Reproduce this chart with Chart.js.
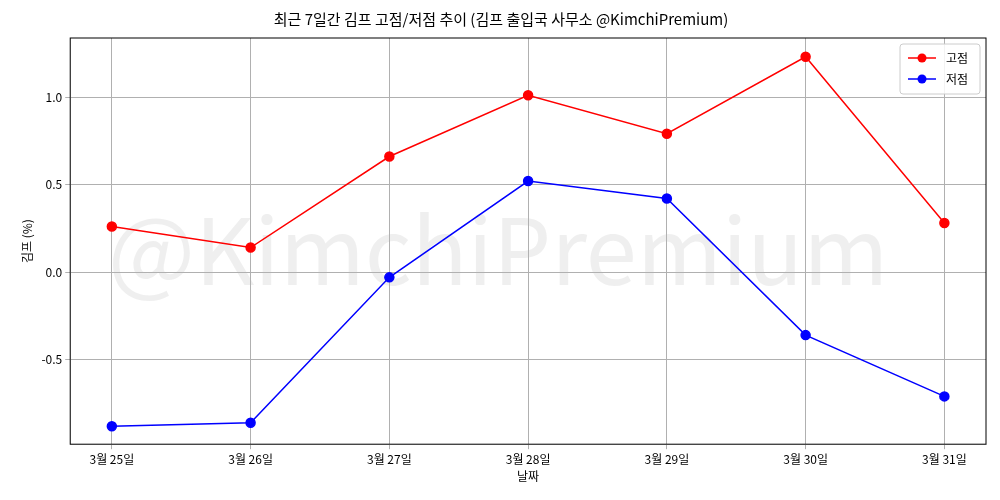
<!DOCTYPE html>
<html>
<head>
<meta charset="utf-8">
<script src="https://cdn.jsdelivr.net/npm/chart.js@4"></script>
<style>
  body { margin: 0; background: #fff; }
  #wrap { width: 1000px; height: 500px; }
</style>
</head>
<body>
<div id="wrap"><canvas id="c"></canvas></div>
<script>
const labels = ['3월 25일', '3월 26일', '3월 27일', '3월 28일', '3월 29일', '3월 30일', '3월 31일'];
const highs = [0.26, 0.14, 0.66, 1.01, 0.79, 1.23, 0.28];
const lows = [-0.88, -0.86, -0.03, 0.52, 0.42, -0.36, -0.71];
const yTicks = [-0.5, 0.0, 0.5, 1.0];

const FONT = '"Noto Sans CJK KR", "Noto Sans", sans-serif';
Chart.defaults.font.family = FONT;
Chart.defaults.color = '#222';

const pts = arr => arr.map((v, i) => ({ x: i, y: v }));

// 워터마크
const watermark = {
  id: 'watermark',
  beforeDatasetsDraw(chart) {
    const { ctx, chartArea: a } = chart;
    ctx.save();
    ctx.font = '92px ' + FONT;
    ctx.fillStyle = 'rgba(180,180,180,0.22)';
    ctx.textAlign = 'center';
    ctx.textBaseline = 'middle';
    ctx.fillText('@KimchiPremium', (a.left + a.right) / 2 - 30, 250);
    ctx.restore();
  }
};

// 외곽 테두리 + 범례
const frame = {
  id: 'frame',
  afterDatasetsDraw(chart) {
    const { ctx, chartArea: a } = chart;
    ctx.save();
    ctx.strokeStyle = '#000';
    ctx.lineWidth = 1;
    ctx.strokeRect(a.left, a.top, a.right - a.left, a.bottom - a.top);
    const w = 80, h = 50, x = a.right - w - 6, y = a.top + 6;
    ctx.fillStyle = 'rgba(255,255,255,0.85)';
    ctx.strokeStyle = '#ccc';
    ctx.beginPath(); ctx.roundRect(x, y, w, h, 3); ctx.fill(); ctx.stroke();
    ctx.font = '12px ' + FONT;
    ctx.textBaseline = 'middle';
    chart.data.datasets.forEach((d, i) => {
      const yy = y + 14 + i * 21;
      ctx.strokeStyle = d.borderColor; ctx.lineWidth = 1.5;
      ctx.beginPath(); ctx.moveTo(x + 8, yy); ctx.lineTo(x + 36, yy); ctx.stroke();
      ctx.fillStyle = d.borderColor;
      ctx.beginPath(); ctx.arc(x + 22, yy, 4.5, 0, Math.PI * 2); ctx.fill();
      ctx.fillStyle = '#000';
      ctx.fillText(d.label, x + 46, yy);
    });
    ctx.restore();
  }
};

new Chart(document.getElementById('c'), {
  type: 'line',
  data: {
    datasets: [
      { label: '고점', data: pts(highs), borderColor: '#ff0000', backgroundColor: '#ff0000',
        borderWidth: 1.5, pointRadius: 4.5, pointHoverRadius: 4.5 },
      { label: '저점', data: pts(lows), borderColor: '#0000ff', backgroundColor: '#0000ff',
        borderWidth: 1.5, pointRadius: 4.5, pointHoverRadius: 4.5 }
    ]
  },
  options: {
    responsive: true,
    maintainAspectRatio: false,
    animation: false,
    layout: { padding: { left: 16, right: 14, top: 4, bottom: 16 } },
    plugins: {
      title: { display: true, text: '최근 7일간 김프 고점/저점 추이 (김프 출입국 사무소 @KimchiPremium)',
        font: { size: 15, weight: 'normal' }, color: '#000', padding: { top: 6, bottom: 10 } },
      legend: { display: false },
      tooltip: { enabled: false }
    },
    scales: {
      x: {
        type: 'linear', min: -0.3, max: 6.3,
        afterBuildTicks(s) { s.ticks = labels.map((_, i) => ({ value: i })); },
        ticks: { callback: v => labels[v], font: { size: 12 }, color: '#000' },
        grid: { color: '#b0b0b0', drawTicks: true, tickLength: 5 },
        title: { display: true, text: '날짜', font: { size: 12 }, color: '#000', padding: 0 }
      },
      y: {
        min: -0.983, max: 1.337,
        afterBuildTicks(s) { s.ticks = yTicks.map(v => ({ value: v })); },
        ticks: { callback: v => v.toFixed(1), font: { size: 12 }, color: '#000' },
        grid: { color: '#b0b0b0', tickLength: 5 },
        title: { display: true, text: '김프 (%)', font: { size: 12 }, color: '#000' }
      }
    }
  },
  plugins: [watermark, frame]
});
</script>
</body>
</html>
